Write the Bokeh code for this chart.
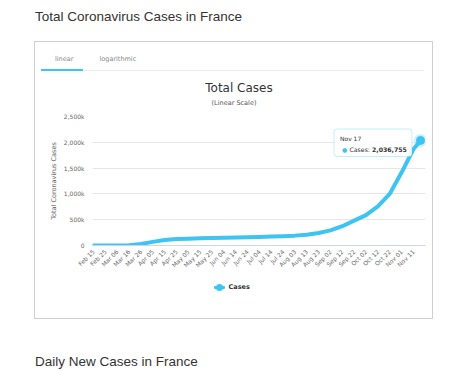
import math
import pandas as pd
from bokeh.plotting import figure
from bokeh.layouts import column
from bokeh.models import (Range1d, FixedTicker, CustomJSTickFormatter, DatetimeTickFormatter,
                          Label, BoxAnnotation, Div)
from bokeh.embed import file_html
from bokeh.resources import INLINE

# ---------------- data ----------------
page_title = "Total Coronavirus Cases in France"
next_title = "Daily New Cases in France"
tab_labels = ["linear", "logarithmic"]
chart_title = "Total Cases"
chart_subtitle = "(Linear Scale)"
y_axis_title = "Total Coronavirus Cases"
series_name = "Cases"

dates = ["2020-02-15", "2020-02-25", "2020-03-06", "2020-03-16", "2020-03-26",
         "2020-04-05", "2020-04-15", "2020-04-25", "2020-05-05", "2020-05-15",
         "2020-05-25", "2020-06-04", "2020-06-14", "2020-06-24", "2020-07-04",
         "2020-07-14", "2020-07-24", "2020-08-03", "2020-08-13", "2020-08-23",
         "2020-09-02", "2020-09-12", "2020-09-22", "2020-10-02", "2020-10-12",
         "2020-10-22", "2020-11-01", "2020-11-11", "2020-11-17"]
cases = [12, 14, 613, 6633, 29155,
         70478, 106206, 124114, 132967, 140227,
         144921, 152444, 157220, 161348, 166960,
         172377, 180528, 191295, 209365, 242899,
         293024, 373911, 481141, 589653, 757942,
         999043, 1413915, 1865538, 2036755]

tick_dates = ["2020-02-15", "2020-02-25", "2020-03-06", "2020-03-16", "2020-03-26",
              "2020-04-05", "2020-04-15", "2020-04-25", "2020-05-05", "2020-05-15",
              "2020-05-25", "2020-06-04", "2020-06-14", "2020-06-24", "2020-07-04",
              "2020-07-14", "2020-07-24", "2020-08-03", "2020-08-13", "2020-08-23",
              "2020-09-02", "2020-09-12", "2020-09-22", "2020-10-02", "2020-10-12",
              "2020-10-22", "2020-11-01", "2020-11-11"]
y_ticks = [0, 500000, 1000000, 1500000, 2000000, 2500000]

# ---------------- layout constants (page pixels) ----------------
BLUE = "#3ec4f2"
BOX_L, BOX_T = 34, 41                     # outer box (1px border) top-left
IN_L, IN_T = BOX_L + 1, BOX_T + 1         # inner content top-left
IN_W = 397
HEADER_H = 66
FIG_T = IN_T + HEADER_H                   # 108
FIG_H = 172
FOOT_T = FIG_T + FIG_H                    # 280
FOOT_H = 38
FL, FR, FT, FB = 92, 425, 116, 245        # plot frame in page px
X_FIRST, X_LAST = 93, 420                 # page px of first / last point

xs = pd.to_datetime(dates)
ppd = (X_LAST - X_FIRST) / ((xs[-1] - xs[0]) / pd.Timedelta(days=1))
x_start = xs[0] - pd.Timedelta(days=(X_FIRST - FL) / ppd)
x_end = xs[-1] + pd.Timedelta(days=(FR - X_LAST) / ppd)

p = figure(width=IN_W, height=FIG_H, x_axis_type="datetime", output_backend="svg",
           toolbar_location=None,
           x_range=Range1d(x_start, x_end), y_range=Range1d(0, y_ticks[-1]),
           min_border_left=FL - IN_L, min_border_right=IN_L + IN_W - FR,
           min_border_top=FT - FIG_T, min_border_bottom=FIG_T + FIG_H - FB)
p.outline_line_color = None
p.background_fill_color = "white"
p.border_fill_color = "white"

line_r = p.line(xs, cases, line_width=4, color=BLUE, line_join="round", line_cap="round")
p.scatter([xs[-1]], [cases[-1]], size=13, fill_color=BLUE, fill_alpha=0.25, line_color=None)
dot_r = p.scatter([xs[-1]], [cases[-1]], size=8, fill_color=BLUE, line_color=BLUE)

# axes
tick_ms = [int(pd.Timestamp(d).value // 10**6) for d in tick_dates]
p.xaxis.ticker = FixedTicker(ticks=tick_ms)
fmt = "%b %d"
p.xaxis.formatter = DatetimeTickFormatter(milliseconds=fmt, seconds=fmt, minsec=fmt, minutes=fmt,
                                          hourmin=fmt, hours=fmt, days=fmt, months=fmt, years=fmt)
p.xaxis.major_label_orientation = math.pi / 4
p.xaxis.major_tick_line_color = None
p.xaxis.minor_tick_line_color = None
p.xaxis.major_tick_out = 0
p.xaxis.major_tick_in = 0
p.xaxis.minor_tick_out = 0
p.xaxis.minor_tick_in = 0
p.xaxis.axis_line_color = "#ccd6eb"
p.xaxis.major_label_text_font = "DejaVu Sans"
p.xaxis.major_label_text_font_size = "6px"
p.xaxis.major_label_text_color = "#666666"
p.xaxis.major_label_standoff = 5

p.yaxis.ticker = FixedTicker(ticks=y_ticks)
p.yaxis.formatter = CustomJSTickFormatter(
    code="return tick == 0 ? '0' : (tick/1000).toLocaleString('en-US') + 'k';")
p.yaxis.axis_line_color = None
p.yaxis.major_tick_line_color = None
p.yaxis.minor_tick_line_color = None
p.yaxis.major_tick_out = 0
p.yaxis.major_tick_in = 0
p.yaxis.minor_tick_out = 0
p.yaxis.minor_tick_in = 0
p.yaxis.major_label_text_font = "DejaVu Sans"
p.yaxis.major_label_text_font_size = "6px"
p.yaxis.major_label_text_color = "#666666"
p.yaxis.major_label_standoff = 8
p.yaxis.axis_label = y_axis_title
p.yaxis.axis_label_text_font = "DejaVu Sans"
p.yaxis.axis_label_text_font_size = "6.5px"
p.yaxis.axis_label_text_font_style = "normal"
p.yaxis.axis_label_text_color = "#666666"
p.yaxis.axis_label_standoff = 3

p.xgrid.visible = False
p.ygrid.grid_line_color = "#e6e6e6"


# ---------------- static tooltip inside the frame (screen units) ----------------
def sx(px):
    return px - FL


def sy(py):
    return FB - py


def text(t, px, py, size, color="#333333", align="left", style="normal"):
    p.add_layout(Label(x=sx(px), y=sy(py), x_units="screen", y_units="screen", text=t,
                       text_font="DejaVu Sans", text_font_size=f"{size}px", text_color=color,
                       text_align=align, text_baseline="alphabetic", text_font_style=style))


p.add_layout(BoxAnnotation(left=sx(333.5), right=sx(411.5), top=sy(128.5), bottom=sy(156),
                           left_units="screen", right_units="screen",
                           top_units="screen", bottom_units="screen",
                           fill_color="white", fill_alpha=0.9, line_color=BLUE, line_width=1,
                           border_radius=3))
text(f"{xs[-1]:%b %d}", 339.5, 138, 6, color="#333333")
text("\u25CF", 344, 148.5, 6, color=BLUE, align="center")
text(f"{series_name}:", 349, 148.5, 6.2, color="#333333")
text(f"{cases[-1]:,}", 371.5, 148.5, 6.2, color="#333333", style="bold")

# ---------------- HTML parts of the page ----------------
ascent_desc = {"DejaVu Sans": 1.164, "Liberation Sans": 1.117}
ascent = {"DejaVu Sans": 0.928, "Liberation Sans": 0.905}


def abs_text(t, left, baseline, size, family, color, line_h, center=False, weight="normal"):
    top = baseline - ((line_h - size * ascent_desc[family]) / 2 + size * ascent[family])
    tr = "transform:translateX(-50%);" if center else ""
    return (f'<span style="position:absolute;left:{left}px;top:{top:.2f}px;white-space:nowrap;'
            f'font-family:\'{family}\';font-size:{size}px;line-height:{line_h}px;color:{color};'
            f'font-weight:{weight};{tr}">{t}</span>')


def abs_rect(left, top, w, h, color, radius=0):
    return (f'<div style="position:absolute;left:{left}px;top:{top}px;width:{w}px;height:{h}px;'
            f'background:{color};border-radius:{radius}px;"></div>')


title_html = ('<div style="position:relative;width:440px;height:41px;">'
              + abs_text(page_title, 35, 21, 13.5, "Liberation Sans", "#333333", 15)
              + '</div>')
title_div = Div(text=title_html, width=440, height=BOX_T, margin=0)

hdr = [f'<div style="position:relative;width:{IN_W}px;height:{HEADER_H}px;">']
hdr.append(abs_rect(41 - IN_L, 70 - IN_T, 383, 1, "#ececec"))
hdr.append(abs_rect(41 - IN_L, 69 - IN_T, 42, 2, BLUE))
hdr.append(abs_text(tab_labels[0], 55 - IN_L, 61 - IN_T, 6.5, "DejaVu Sans", "#888888", 8))
hdr.append(abs_text(tab_labels[1], 99.5 - IN_L, 61 - IN_T, 6.5, "DejaVu Sans", "#888888", 8))
hdr.append(abs_text(chart_title, 239 - IN_L, 92.5 - IN_T, 12, "DejaVu Sans", "#333333", 14,
                    center=True))
hdr.append(abs_text(chart_subtitle, 234 - IN_L, 105.5 - IN_T, 6.5, "DejaVu Sans", "#555555", 8,
                    center=True))
hdr.append('</div>')
header_div = Div(text="".join(hdr), width=IN_W, height=HEADER_H, margin=0)

# legend (HTML) under the x axis
ft = [f'<div style="position:relative;width:{IN_W}px;height:{FOOT_H}px;">']
ft.append(abs_rect(214 - IN_L, 285.5 - FOOT_T, 11, 3, BLUE, radius=1))
ft.append(abs_rect(216 - IN_L, 283.5 - FOOT_T, 7, 7, BLUE, radius=4))
ft.append(abs_text(series_name, 228.5 - IN_L, 289.5 - FOOT_T, 6.5, "DejaVu Sans", "#333333", 8,
                   weight="bold"))
ft.append('</div>')
footer_div = Div(text="".join(ft), width=IN_W, height=FOOT_H, margin=0)

box_col = column(header_div, p, footer_div, margin=(0, 0, 0, BOX_L),
                 styles={"border": "1px solid #cfcfcf", "background": "white"})

NEXT_T = BOX_T + 2 + HEADER_H + FIG_H + FOOT_H     # 319
next_html = ('<div style="position:relative;width:440px;height:55px;">'
             + abs_text(next_title, 35, 366 - NEXT_T, 13.5, "Liberation Sans", "#333333", 15)
             + '</div>')
next_div = Div(text=next_html, width=440, height=55, margin=0)

root = column(title_div, box_col, next_div, margin=0)

open("out.html", "w").write(file_html(root, INLINE))
